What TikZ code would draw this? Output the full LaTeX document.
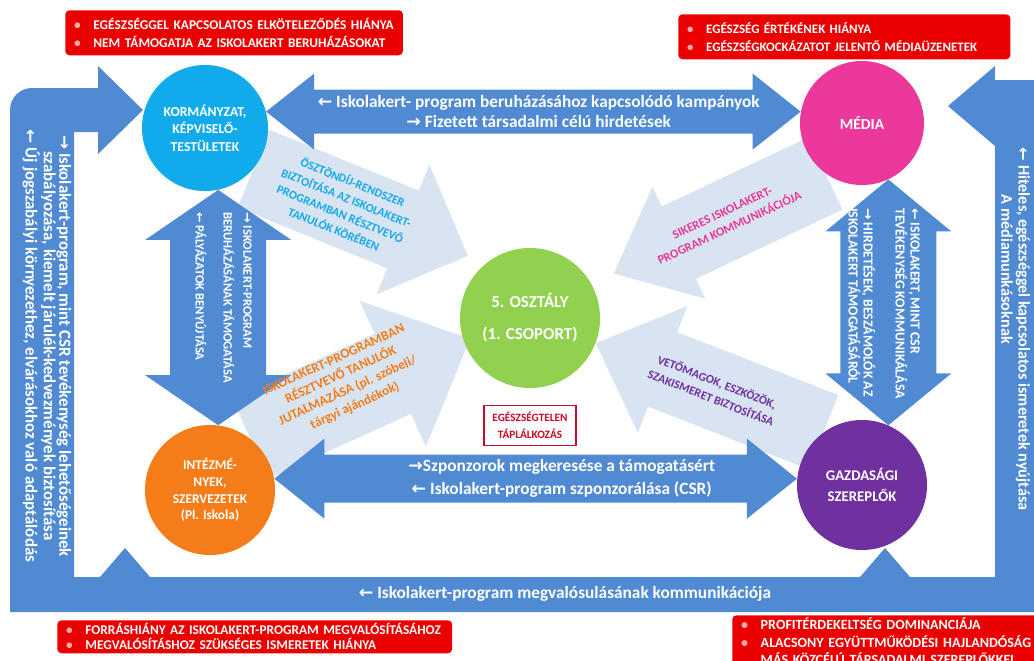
\documentclass[tikz,border=0pt]{standalone}
\usepackage{fontspec}
\setmainfont{Carlito}
\newfontfamily\arrowfont{DejaVu Sans}
\usetikzlibrary{calc,positioning,backgrounds}

\definecolor{flowblue}{RGB}{80,138,210}
\definecolor{hintblue}{RGB}{216,228,241}
\definecolor{govcyan}{RGB}{17,170,235}
\definecolor{mediapink}{RGB}{236,55,155}
\definecolor{classgreen}{RGB}{146,208,80}
\definecolor{instorange}{RGB}{245,125,25}
\definecolor{bizpurple}{RGB}{112,48,160}
\definecolor{riskred}{RGB}{235,0,0}
\definecolor{bulletpink}{RGB}{255,170,170}
\definecolor{healthred}{RGB}{200,10,40}

\newcommand{\toL}{{\arrowfont\bfseries ←}}
\newcommand{\toR}{{\arrowfont\bfseries →}}
\newcommand{\riskitem}[1]{\mbox{\textcolor{bulletpink}{\textbullet}\hspace{9pt}#1}}

% block arrow: fill, tail, tip, shaft half-width, head half-width, head length (in px)
\newcommand{\blockarrow}[6]{%
  \pgfmathsetlengthmacro{\shaftw}{#4*0.025cm}%
  \pgfmathsetlengthmacro{\headw}{#5*0.025cm}%
  \pgfmathsetlengthmacro{\headl}{#6*0.025cm}%
  \coordinate (ahead) at ($(#3)!\headl!(#2)$);%
  \fill[#1] ($(#2)!\shaftw!90:(#3)$) -- ($(ahead)!\shaftw!90:(#3)$)
    -- ($(ahead)!\headw!90:(#3)$) -- (#3) -- ($(ahead)!\headw!-90:(#3)$)
    -- ($(ahead)!\shaftw!-90:(#3)$) -- ($(#2)!\shaftw!-90:(#3)$) -- cycle;}
% double block arrow, same arguments
\newcommand{\dblblockarrow}[6]{%
  \pgfmathsetlengthmacro{\shaftw}{#4*0.025cm}%
  \pgfmathsetlengthmacro{\headw}{#5*0.025cm}%
  \pgfmathsetlengthmacro{\headl}{#6*0.025cm}%
  \coordinate (ahead) at ($(#2)!\headl!(#3)$);%
  \coordinate (bhead) at ($(#3)!\headl!(#2)$);%
  \fill[#1] (#2) -- ($(ahead)!\headw!90:(#3)$) -- ($(ahead)!\shaftw!90:(#3)$)
    -- ($(bhead)!\shaftw!90:(#3)$) -- ($(bhead)!\headw!90:(#3)$) -- (#3)
    -- ($(bhead)!\headw!-90:(#3)$) -- ($(bhead)!\shaftw!-90:(#3)$)
    -- ($(ahead)!\shaftw!-90:(#3)$) -- ($(ahead)!\headw!-90:(#3)$) -- cycle;}

\begin{document}
\begin{tikzpicture}[x=0.025cm, y=-0.025cm,
    actor/.style={circle, minimum size=#1, inner sep=0pt, align=center, text=white,
      font=\bfseries\fontsize{9.7}{12.5}\selectfont},
    riskbox/.style={rectangle, rounded corners=3pt, fill=riskred, text=white, align=left,
      anchor=north west, inner xsep=0.22cm, inner ysep=2pt,
      font=\bfseries\fontsize{9.5}{12.8}\selectfont},
    healthbox/.style={draw=healthred, fill=white, text=healthred, line width=0.8pt,
      align=center, minimum width=2.3cm, minimum height=1cm, inner sep=2pt,
      font=\bfseries\fontsize{8}{12}\selectfont},
    flowtext/.style={text=white, align=center, font=\bfseries\fontsize{12.3}{14.5}\selectfont},
    sidetext/.style={text=white, align=center, font=\bfseries\fontsize{12}{11}\selectfont},
    vtext/.style={text=white, align=left, inner sep=0pt, font=\bfseries\fontsize{9}{14}\selectfont},
    hinttext/.style={align=center, font=\bfseries\fontsize{8.5}{12}\selectfont}]
    \useasboundingbox (0,0) rectangle (1034,660);

    % actors
    \node[actor=3.15cm, fill=govcyan] (kormany) at (205,128) {KORMÁNYZAT,\\KÉPVISELŐ-\\TESTÜLETEK};
    \node[actor=3.1cm, fill=mediapink, font=\bfseries\fontsize{11}{13}\selectfont] (media) at (862,123) {MÉDIA};
    \node[actor=3.5cm, fill=classgreen, font=\bfseries\fontsize{12}{23}\selectfont] (osztaly) at (530,318) {5. OSZTÁLY\\(1. CSOPORT)};
    \node[actor=3.25cm, fill=instorange, font=\bfseries\fontsize{9.5}{12}\selectfont] (intezmeny) at (210,490) {INTÉZMÉ-\\NYEK,\\SZERVEZETEK\\(Pl. Iskola)};
    \node[actor=3.25cm, fill=bizpurple, font=\bfseries\fontsize{10.5}{15}\selectfont] (gazdasag) at (862,485) {GAZDASÁGI\\SZEREPLŐK};

    % problem of the class
    \node[healthbox, below=0.42cm of osztaly] (egeszseg) {EGÉSZSÉGTELEN\\TÁPLÁLKOZÁS};

    % risks of each actor
    \node[riskbox, text width=8.0cm, minimum height=1.125cm] (govrisk) at (65,10)
        {\riskitem{EGÉSZSÉGGEL KAPCSOLATOS ELKÖTELEZŐDÉS HIÁNYA}\\\riskitem{NEM TÁMOGATJA AZ ISKOLAKERT BERUHÁZÁSOKAT}};
    \node[riskbox, text width=7.86cm, minimum height=1.125cm, font=\bfseries\fontsize{9.2}{12.8}\selectfont] (mediarisk) at (678,14)
        {\riskitem{EGÉSZSÉG ÉRTÉKÉNEK HIÁNYA}\\\riskitem{EGÉSZSÉGKOCKÁZATOT JELENTŐ MÉDIAÜZENETEK}};
    \node[riskbox, text width=9.43cm, minimum height=0.825cm, font=\bfseries\fontsize{9.5}{10.7}\selectfont] (instrisk) at (57,620)
        {\riskitem{FORRÁSHIÁNY AZ ISKOLAKERT-PROGRAM MEGVALÓSÍTÁSÁHOZ}\\\riskitem{MEGVALÓSÍTÁSHOZ SZÜKSÉGES ISMERETEK HIÁNYA}};
    \node[riskbox, text width=8cm, minimum height=1.3cm, font=\bfseries\fontsize{10}{12.2}\selectfont] (bizrisk) at (732,615)
        {\riskitem{PROFITÉRDEKELTSÉG DOMINANCIÁJA}\\\riskitem{ALACSONY EGYÜTTMŰKÖDÉSI HAJLANDÓSÁG}\\\phantom{\textbullet}\hspace{9pt}MÁS KÖZCÉLÚ TÁRSADALMI SZEREPLŐKKEL};

    % arrow ends
    \coordinate (topR) at (kormany.15 -| media.170);
    \coordinate (botR) at (intezmeny.10 -| gazdasag.175);
    \coordinate (leftB) at (kormany.-78 |- intezmeny.83);
    \coordinate (rightB) at (media.-65 |- gazdasag.66);
    \coordinate (d1e) at ($(osztaly.center)!1.25!(osztaly.135)$);
    \coordinate (d2e) at ($(osztaly.center)!1.35!(osztaly.28)$);
    \coordinate (d3e) at ($(osztaly.center)!0.9!(osztaly.199)$);
    \coordinate (d4e) at (osztaly.-21);

    \begin{pgfonlayer}{background}
        % outer frame
        \fill[flowblue] (10,612) -- (10,300) [rounded corners=0.55cm] -- (10,88) -- (60,88) [sharp corners]
            -- (98,88) -- (98,66) -- (143,110) -- (98,154) -- (98,132) -- (74,132) -- (74,577)
            -- (100,577) -- (125,548) -- (150,577) -- (860,577) -- (885,548) -- (910,577)
            -- (995,577) -- (995,146) -- (948,106) -- (995,66) -- (995,80) -- (1045,80)
            -- (1045,612) -- cycle;
        % light arrows towards the class
        \blockarrow{hintblue}{kormany.-40}{d1e}{42}{70}{70}
        \blockarrow{hintblue}{media.234}{d2e}{40}{62}{72}
        \blockarrow{hintblue}{intezmeny.52}{d3e}{44}{80}{85}
        \blockarrow{hintblue}{gazdasag.126}{d4e}{40}{68}{72}
        % blue arrows between actors
        \dblblockarrow{flowblue}{kormany.15}{topR}{22}{38}{48}
        \dblblockarrow{flowblue}{intezmeny.10}{botR}{24}{40}{50}
        \dblblockarrow{flowblue}{kormany.-78}{leftB}{48}{73}{50}
        \dblblockarrow{flowblue}{media.-65}{rightB}{48}{63}{52}
    \end{pgfonlayer}

    % texts on the blue arrows
    \node[flowtext] (kampany) at ($(kormany.15)!0.51!(topR)$)
        {\toL{} Iskolakert- program beruházásához kapcsolódó kampányok\\\toR{} Fizetett társadalmi célú hirdetések};
    \node[flowtext, font=\bfseries\fontsize{12.3}{16.3}\selectfont] (szponzor) at ($(intezmeny.10)!0.55!(botR)$)
        {\toR{}Szponzorok megkeresése a támogatásért\\\toL{} Iskolakert-program szponzorálása (CSR)};
    \node[vtext, rotate=-90, anchor=north west] (palyazat) at (252,212)
        {\toR{} ISKOLAKERT-PROGRAM\\BERUHÁZÁSÁNAK TÁMOGATÁSA\\[6pt]\toL{} PÁLYÁZATOK BENYÚJTÁSA};
    \node[vtext, rotate=-90, anchor=north west, font=\bfseries\fontsize{9.8}{10.7}\selectfont] (hirdetes) at (920,208)
        {\toL{} ISKOLAKERT, MINT CSR\\TEVÉKENYSÉG KOMMUNIKÁLÁSA\\[12pt]\toR{} HIRDETÉSEK, BESZÁMOLÓK AZ\\ISKOLAKERT TÁMOGATÁSÁRÓL};

    % texts on the frame
    \node[sidetext, rotate=-90] (csr) at (47,346)
        {\toR{} Iskolakert-program, mint CSR tevékenység lehetőségeinek\\szabályozása, kiemelt járulék-kedvezmények biztosítása\\\toL{} Új jogszabályi környezethez, elvárásokhoz való adaptálódás};
    \node[sidetext, rotate=-90, anchor=west, font=\bfseries\fontsize{11.5}{12}\selectfont] (hiteles) at (1023,143) {\toL{} Hiteles, egészséggel kapcsolatos ismeretek nyújtása};
    \node[sidetext, rotate=-90, anchor=west, font=\bfseries\fontsize{11.5}{12}\selectfont] (mediamunka) at (1007,190) {A médiamunkásoknak};
    \node[flowtext] (kommunikacio) at (565,594) {\toL{} Iskolakert-program megvalósulásának kommunikációja};

    % texts on the light arrows
    \node[hinttext, text=govcyan, rotate=-22] (osztondij) at ($(kormany.-40)!0.42!(d1e)$)
        {ÖSZTÖNDÍJ-RENDSZER\\BIZTOÍTÁSA AZ ISKOLAKERT-\\PROGRAMBAN RÉSZTVEVŐ\\TANULÓK KÖRÉBEN};
    \node[hinttext, text=mediapink, rotate=25, font=\bfseries\fontsize{8.8}{12}\selectfont] (sikeres) at ($(media.234)!0.47!(d2e)$)
        {SIKERES ISKOLAKERT-\\PROGRAM KOMMUNIKÁCIÓJA};
    \node[hinttext, text=instorange, rotate=24.5, yshift=8pt, font=\bfseries\fontsize{9.5}{12}\selectfont] (jutalom) at ($(intezmeny.52)!0.45!(d3e)$)
        {ISKOLAKERT-PROGRAMBAN\\RÉSZTVEVŐ TANULÓK\\JUTALMAZÁSA (pl. szóbeli/\\tárgyi ajándékok)};
    \node[hinttext, text=bizpurple, rotate=-21.4] (vetomag) at ($(gazdasag.126)!0.48!(d4e)$)
        {VETŐMAGOK, ESZKÖZÖK,\\SZAKISMERET BIZTOSÍTÁSA};
\end{tikzpicture}
\end{document}
